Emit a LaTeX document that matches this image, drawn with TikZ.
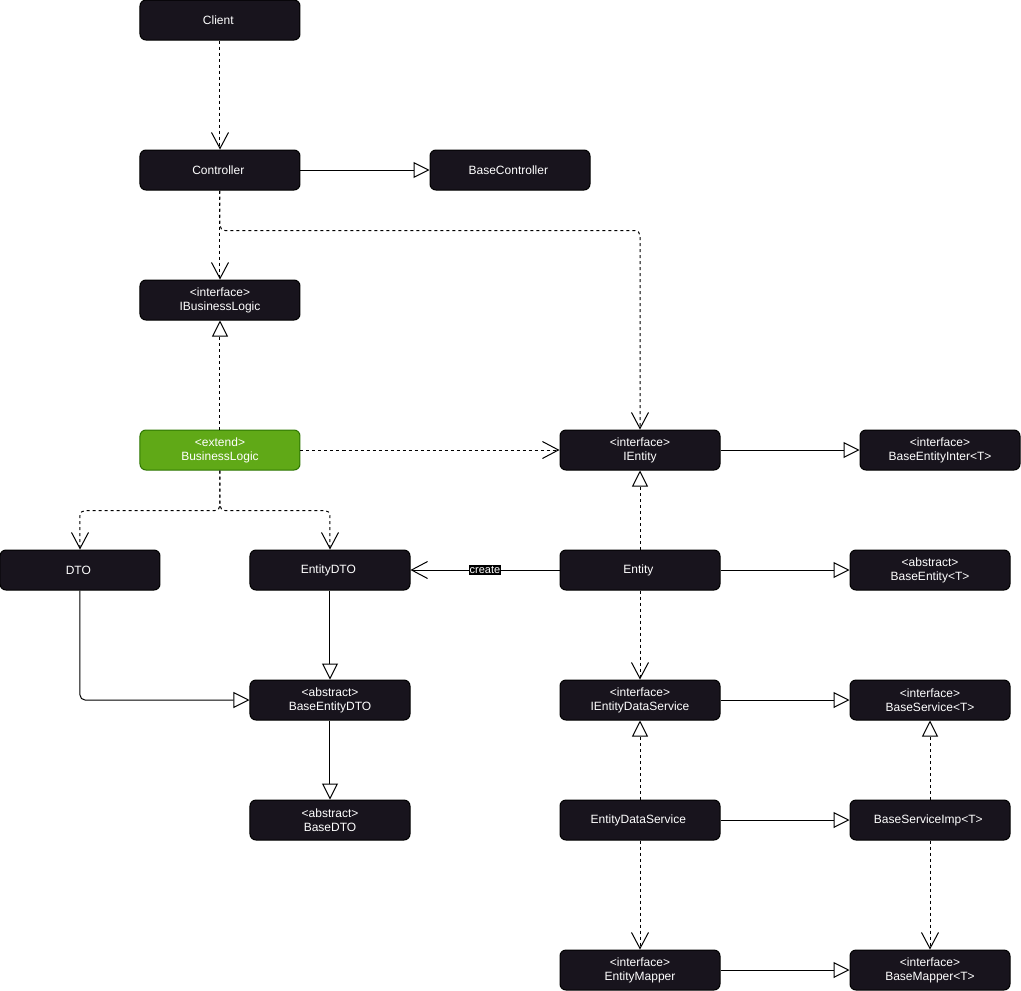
\documentclass[tikz,border=0pt]{standalone}
\usepackage{fontspec}
\setsansfont{Liberation Sans}
\usepackage{tikz}
\usetikzlibrary{arrows.meta, shapes, arrows}
\definecolor{boxDark}{HTML}{18141D}
\definecolor{boxGreen}{HTML}{60A917}
\definecolor{boxGreenLine}{HTML}{2D7600}

\begin{document}
\begin{tikzpicture}[
            >={Straight Barb[length=16pt, width=17pt]},
                base/.style = {rectangle, rounded corners=6pt, draw=black,
                            minimum width=160pt, minimum height=40pt, text
                            centered, font=\sffamily\fontsize{12pt}{14pt}\selectfont,
                            text=white, line width=1pt, align=center},
                classBox/.style = {base, fill=boxDark},
                extendBox/.style = {base, fill=boxGreen, draw=boxGreenLine},
                dependency/.style = {->, dash pattern=on 3pt off 3pt, line width=1pt},
                association/.style = {->, line width=1pt},
                inherit/.style = {-{Triangle[length=16pt, width=16pt, fill=white]}, line width=1pt},
                realize/.style = {inherit, dash pattern=on 3pt off 3pt},
                createLabel/.style = {fill=black, text=white, inner sep=1pt,
                            font=\sffamily\fontsize{11pt}{11pt}\selectfont},
            node distance=130pt]
            \useasboundingbox (-220pt,20pt) rectangle (801pt,-971pt);
            \node (client) [classBox] {
                Client
            };
            \node (ctrl) [classBox, below of=client, yshift=-20pt] {
                Controller
            };
            \node (bctrl) [classBox, right of=ctrl, xshift=160pt] {
                BaseController
            };
            \node (ibl) [classBox, below of=ctrl] {
                <interface>\\
                IBusinessLogic
            };
            \node (bl) [extendBox, below of=ibl, yshift=-20pt] {
                <extend>\\
                BusinessLogic
            };
            \node (ient) [classBox, right of=bl, xshift=290pt] {
                <interface>\\
                IEntity
            };
            \node (bei) [classBox, right of=ient, xshift=170pt] {
                <interface>\\
                BaseEntityInter<T>
            };
            \node (edto) [classBox, below of=bl, xshift=110pt, yshift=10pt] {
                EntityDTO
            };
            \node (dto) [classBox, left of=edto, xshift=-120pt] {
                DTO
            };
            \node (ent) [classBox, below of=ient, yshift=10pt] {
                Entity
            };
            \node (bent) [classBox, right of=ent, xshift=160pt] {
                <abstract>\\
                BaseEntity<T>
            };
            \node (bedto) [classBox, below of=edto] {
                <abstract>\\
                BaseEntityDTO
            };
            \node (bdto) [classBox, below of=bedto, yshift=10pt] {
                <abstract>\\
                BaseDTO
            };
            \node (ieds) [classBox, below of=ent] {
                <interface>\\
                IEntityDataService
            };
            \node (bsvc) [classBox, right of=ieds, xshift=160pt] {
                <interface>\\
                BaseService<T>
            };
            \node (eds) [classBox, below of=ieds, yshift=10pt] {
                EntityDataService
            };
            \node (bsimp) [classBox, right of=eds, xshift=160pt] {
                BaseServiceImp<T>
            };
            \node (emap) [classBox, below of=eds, yshift=-20pt] {
                <interface>\\
                EntityMapper
            };
            \node (bmap) [classBox, right of=emap, xshift=160pt] {
                <interface>\\
                BaseMapper<T>
            };
            \draw[dependency] (client) -- (ctrl);
            \draw[inherit] (ctrl) -- (bctrl);
            \draw[dependency] (ctrl) -- (ibl);
            \draw[dependency, rounded corners=5pt] (ctrl.south) -- ++(0,-40pt) -| (ient.north);
            \draw[realize] (bl) -- (ibl);
            \draw[dependency] (bl) -- (ient);
            \draw[dependency, rounded corners=5pt] (bl.south) -- ++(0,-40pt) -| (dto.north);
            \draw[dependency, rounded corners=5pt] (bl.south) -- ++(0,-40pt) -| (edto.north);
            \draw[inherit] (ient) -- (bei);
            \draw[realize] (ent) -- (ient);
            \draw[association] (ent) -- node[createLabel] {create} (edto);
            \draw[inherit] (ent) -- (bent);
            \draw[dependency] (ent) -- (ieds);
            \draw[inherit] (edto) -- (bedto);
            \draw[inherit, rounded corners=5pt] (dto.south) |- (bedto.west);
            \draw[inherit] (bedto) -- (bdto);
            \draw[inherit] (ieds) -- (bsvc);
            \draw[realize] (eds) -- (ieds);
            \draw[inherit] (eds) -- (bsimp);
            \draw[realize] (bsimp) -- (bsvc);
            \draw[dependency] (eds) -- (emap);
            \draw[dependency] (bsimp) -- (bmap);
            \draw[inherit] (emap) -- (bmap);
        \end{tikzpicture}
\end{document}
